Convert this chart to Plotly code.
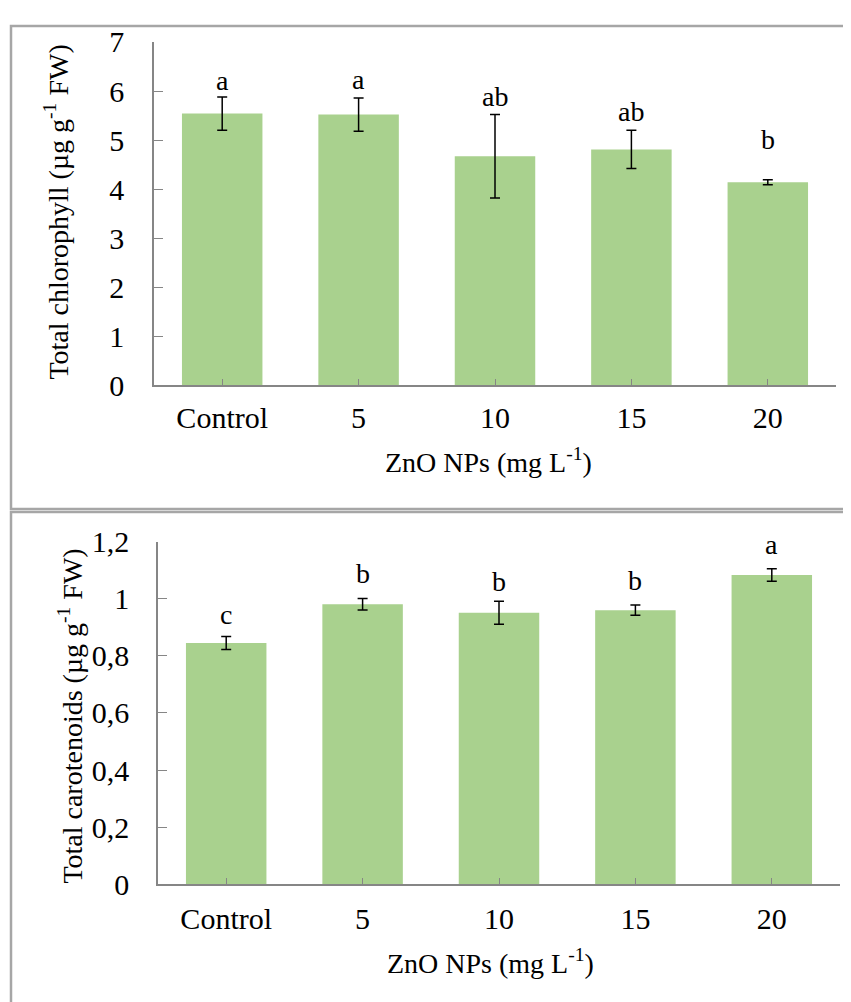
import plotly.graph_objects as go

categories = ["Control", "5", "10", "15", "20"]

chl_values = [5.54, 5.52, 4.67, 4.81, 4.14]
chl_errors = [0.34, 0.34, 0.85, 0.39, 0.05]
chl_letters = ["a", "a", "ab", "ab", "b"]

car_values = [0.845, 0.981, 0.951, 0.960, 1.083]
car_errors = [0.023, 0.020, 0.040, 0.018, 0.022]
car_letters = ["c", "b", "b", "b", "a"]

# Page placement of the plot in the photographed window (measured):
# window_x = fig_x + 8 ; window_y = 0.968 * fig_y + 24
OFF_X, OFF_Y, SY = 8, 24, 0.968
W, H = 835, 1002
FONT = "Liberation Serif"
GREEN = "#a9d18e"
AXIS = "#868686"
BORDER = "#a6a6a6"


def px(x):
    return (x - OFF_X) / W


def py(y):
    return 1 - ((y - OFF_Y) / SY) / H


fig = go.Figure()

fig.add_trace(go.Bar(
    x=categories, y=chl_values, marker_color=GREEN, marker_line_width=0,
    error_y=dict(type="data", array=chl_errors, color="black", thickness=1.5, width=5),
    xaxis="x", yaxis="y", showlegend=False,
))
fig.add_trace(go.Bar(
    x=categories, y=car_values, marker_color=GREEN, marker_line_width=0,
    error_y=dict(type="data", array=car_errors, color="black", thickness=1.5, width=5),
    xaxis="x2", yaxis="y2", showlegend=False,
))

tickfont = dict(family=FONT, size=30, color="black")

common_x = dict(
    type="category", showline=True, linecolor=AXIS, linewidth=1.5,
    ticks="inside", ticklen=7, tickcolor=AXIS, tickwidth=1,
    tickfont=tickfont, tickangle=0, showgrid=False, zeroline=False, fixedrange=True,
    range=[-0.5, len(categories) - 0.5], autorange=False,
)
common_y = dict(
    showline=True, linecolor=AXIS, linewidth=1.5,
    ticks="inside", ticklen=9, tickcolor=AXIS, tickwidth=1,
    tickfont=tickfont, showgrid=False, zeroline=False, fixedrange=True,
    autorange=False,
)

fig.update_layout(
    width=W, height=H,
    margin=dict(l=0, r=0, t=0, b=0),
    paper_bgcolor="white", plot_bgcolor="white",
    separators=",.",
    bargap=0.41,
    xaxis=dict(common_x, domain=[px(154), px(836)], anchor="y", ticklabelstandoff=5),
    yaxis=dict(common_y, domain=[py(385), py(41)], range=[0, 7], dtick=1, anchor="x",
               ticklabelstandoff=22),
    xaxis2=dict(common_x, domain=[px(158), px(840)], anchor="y2", ticklabelstandoff=7),
    yaxis2=dict(common_y, domain=[py(885), py(541.7)], range=[0, 1.2], dtick=0.2, anchor="x2",
                ticklabelstandoff=21),
)

letter_font = dict(family=FONT, size=28, color="black")
chl_letter_shift = [-1, 1, 1, 1, 23]
car_letter_shift = [4, 7, 2, 7, 7]
annotations = []
for i, (v, e, t) in enumerate(zip(chl_values, chl_errors, chl_letters)):
    annotations.append(dict(x=i, y=v + e, xref="x", yref="y", text=t, showarrow=False,
                            yanchor="bottom", yshift=chl_letter_shift[i], font=letter_font))
for i, (v, e, t) in enumerate(zip(car_values, car_errors, car_letters)):
    annotations.append(dict(x=i, y=v + e, xref="x2", yref="y2", text=t, showarrow=False,
                            yanchor="bottom", yshift=car_letter_shift[i], font=letter_font))

title_font = dict(family=FONT, size=28, color="black")
xtitle_font = dict(family=FONT, size=28, color="black")
annotations += [
    dict(x=px(57), y=py(212), xref="paper", yref="paper", text="Total chlorophyll (µg g<sup>-1</sup> FW)",
         textangle=-90, showarrow=False, font=title_font, xanchor="center", yanchor="middle"),
    dict(x=px(488), y=py(460), xref="paper", yref="paper", text="ZnO NPs (mg L<sup>-1</sup>)",
         showarrow=False, font=xtitle_font, xanchor="center", yanchor="middle"),
    dict(x=px(71), y=py(717), xref="paper", yref="paper", text="Total carotenoids (µg g<sup>-1</sup> FW)",
         textangle=-90, showarrow=False, font=title_font, xanchor="center", yanchor="middle"),
    dict(x=px(490), y=py(962), xref="paper", yref="paper", text="ZnO NPs (mg L<sup>-1</sup>)",
         showarrow=False, font=xtitle_font, xanchor="center", yanchor="middle"),
]
fig.update_layout(annotations=annotations)

fig.update_layout(shapes=[
    dict(type="rect", xref="paper", yref="paper", x0=px(11), x1=px(880), y0=py(509), y1=0.999,
         line=dict(color=BORDER, width=2.5), layer="below"),
    dict(type="rect", xref="paper", yref="paper", x0=px(11), x1=px(880), y0=-0.2, y1=py(512),
         line=dict(color=BORDER, width=2.5), layer="below"),
])

fig.write_html("out.html")
